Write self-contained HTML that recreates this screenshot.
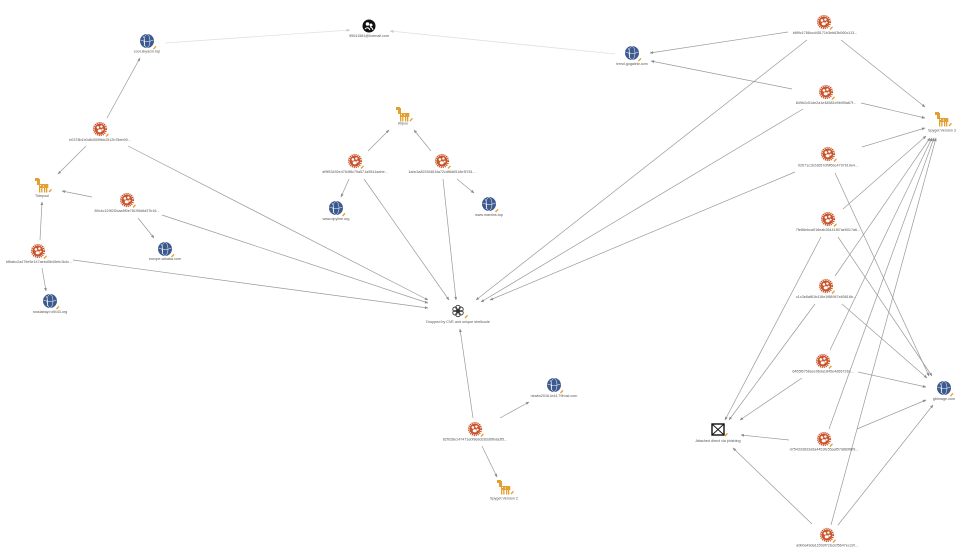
<!DOCTYPE html>
<html>
<head>
<meta charset="utf-8">
<style>
html,body{margin:0;padding:0;background:#fff;}
svg{display:block;}
text{font-family:"Liberation Sans",sans-serif;font-size:3.7px;fill:#555;text-anchor:middle;}
</style>
</head>
<body>
<svg width="974" height="557" viewBox="0 0 974 557" xmlns="http://www.w3.org/2000/svg">
<defs>
<marker id="ar" viewBox="0 0 10 10" refX="9" refY="5" markerWidth="5" markerHeight="5" orient="auto">
<path d="M0,1 L10,5 L0,9 z" fill="#888"/>
</marker>
<marker id="arl" viewBox="0 0 10 10" refX="9" refY="5" markerWidth="5" markerHeight="5" orient="auto">
<path d="M0,1 L10,5 L0,9 z" fill="#ccc"/>
</marker>
<g id="mal">
<circle r="6.3" fill="none" stroke="#c44e26" stroke-width="1.6" stroke-dasharray="1.1 0.9"/>
<circle r="5.4" fill="#c9532a"/>
<circle cx="-2.1" cy="-1.6" r="1.3" fill="#fff"/>
<circle cx="1.4" cy="-2.4" r="1.2" fill="#fff"/>
<circle cx="2.6" cy="0.6" r="1.0" fill="#fff"/>
<ellipse cx="-0.3" cy="1.8" rx="2" ry="1.6" fill="#fff"/>
<line x1="6" y1="7.5" x2="8.5" y2="4.8" stroke="#e89b2f" stroke-width="1.3"/>
</g>
<g id="glb">
<circle r="7" fill="#3c5a8f"/>
<ellipse rx="3" ry="6.5" fill="none" stroke="#fff" stroke-width="0.5"/>
<path d="M-6.5,-1 Q0,2 6.5,-1" fill="none" stroke="#fff" stroke-width="0.5"/>
<path d="M-4,-5 Q-1,0 -3,5" fill="none" stroke="#fff" stroke-width="0.5"/>
<line x1="6.5" y1="8" x2="9" y2="5.3" stroke="#e89b2f" stroke-width="1.3"/>
</g>
<g id="hrs" fill="#e3a032">
<rect x="-7" y="-7" width="4" height="3"/>
<rect x="-5" y="-6" width="3" height="6"/>
<rect x="-3" y="-1" width="8" height="4"/>
<rect x="-3" y="3" width="1.3" height="4.5"/>
<rect x="-0.8" y="3" width="1.3" height="4.5"/>
<rect x="2" y="3" width="1.3" height="4.5"/>
<rect x="4" y="3" width="1.3" height="4.5"/>
<rect x="5" y="-1" width="1.3" height="4"/>
<rect x="-2" y="0" width="1" height="1" fill="#fff"/>
<rect x="1" y="0.5" width="1" height="1" fill="#fff"/>
<line x1="7" y1="7" x2="9.5" y2="4.3" stroke="#e89b2f" stroke-width="1.3"/>
</g>
</defs>

<!-- edges -->
<g stroke="#e0e0e0" stroke-width="0.8" fill="none">
<line x1="165" y1="43" x2="350" y2="30" marker-end="url(#arl)"/>
<line x1="615" y1="54" x2="390" y2="31" marker-end="url(#arl)"/>
</g>
<g stroke="#999" stroke-width="0.7" fill="none" marker-end="url(#ar)">
<line x1="107" y1="118" x2="140" y2="58"/>
<line x1="86" y1="146" x2="58" y2="174"/>
<line x1="128" y1="146" x2="428" y2="300"/>
<line x1="92" y1="197" x2="62" y2="191"/>
<line x1="138" y1="218" x2="154" y2="238"/>
<line x1="162" y1="215" x2="428" y2="303"/>
<line x1="40" y1="240" x2="42" y2="202"/>
<line x1="42" y1="268" x2="46" y2="291"/>
<line x1="73" y1="260" x2="428" y2="308"/>
<line x1="368" y1="151" x2="389" y2="130"/>
<line x1="431" y1="151" x2="414" y2="130"/>
<line x1="349" y1="179" x2="341" y2="197"/>
<line x1="457" y1="179" x2="474" y2="193"/>
<line x1="364" y1="179" x2="449" y2="300"/>
<line x1="443" y1="179" x2="456" y2="300"/>
<line x1="473" y1="418" x2="460" y2="329"/>
<line x1="500" y1="418" x2="529" y2="402"/>
<line x1="482" y1="446" x2="497" y2="477"/>
<line x1="788" y1="32" x2="650" y2="53"/>
<line x1="792" y1="89" x2="651" y2="61"/>
<line x1="807" y1="40" x2="476" y2="300"/>
<line x1="803" y1="109" x2="481" y2="302"/>
<line x1="795" y1="172" x2="490" y2="300"/>
<line x1="841" y1="40" x2="925" y2="107"/>
<line x1="861" y1="103" x2="925" y2="118"/>
<line x1="862" y1="147" x2="925" y2="128"/>
<line x1="843" y1="209" x2="926" y2="136"/>
<line x1="835" y1="276" x2="930" y2="138"/>
<line x1="830" y1="350" x2="932" y2="138"/>
<line x1="829" y1="429" x2="934" y2="138"/>
<line x1="831" y1="525" x2="936" y2="138"/>
<line x1="835" y1="173" x2="929" y2="376"/>
<line x1="838" y1="237" x2="932" y2="376"/>
<line x1="842" y1="304" x2="927" y2="378"/>
<line x1="858" y1="372" x2="926" y2="387"/>
<line x1="857" y1="429" x2="926" y2="400"/>
<line x1="838" y1="525" x2="933" y2="405"/>
<line x1="821" y1="237" x2="725" y2="420"/>
<line x1="815" y1="304" x2="729" y2="420"/>
<line x1="802" y1="378" x2="740" y2="420"/>
<line x1="789" y1="440" x2="741" y2="435"/>
<line x1="812" y1="524" x2="733" y2="448"/>
</g>

<!-- malware nodes -->
<use href="#mal" x="100" y="129"/>
<use href="#mal" x="127" y="200"/>
<use href="#mal" x="38" y="251"/>
<use href="#mal" x="355" y="161"/>
<use href="#mal" x="442" y="161"/>
<use href="#mal" x="475" y="429"/>
<use href="#mal" x="824" y="22"/>
<use href="#mal" x="826" y="92"/>
<use href="#mal" x="828" y="154"/>
<use href="#mal" x="828" y="219"/>
<use href="#mal" x="826" y="286"/>
<use href="#mal" x="823" y="361"/>
<use href="#mal" x="824" y="439"/>
<use href="#mal" x="827" y="535"/>

<!-- globes -->
<use href="#glb" x="147" y="41"/>
<use href="#glb" x="632" y="53"/>
<use href="#glb" x="336" y="208"/>
<use href="#glb" x="489" y="204"/>
<use href="#glb" x="165" y="249"/>
<use href="#glb" x="50" y="301"/>
<use href="#glb" x="554" y="385"/>
<use href="#glb" x="944" y="388"/>

<!-- horses -->
<use href="#hrs" x="403" y="114"/>
<use href="#hrs" x="42" y="185"/>
<use href="#hrs" x="942" y="119"/>
<use href="#hrs" x="504" y="487"/>

<!-- hotmail -->
<g transform="translate(369,26)">
<circle r="6.5" fill="#111"/>
<circle cx="-1.5" cy="-2" r="1.8" fill="#fff"/>
<circle cx="2" cy="-1" r="1.5" fill="#fff"/>
<path d="M-4,3 Q-1,0 1,4 M1,1 Q3,1 4,4" stroke="#fff" stroke-width="1" fill="none"/>
</g>

<!-- dropped -->
<g transform="translate(458,311)" fill="none" stroke="#333" stroke-width="0.9">
<circle cx="0" cy="-3.5" r="2.2"/>
<circle cx="3" cy="-1.8" r="2.2"/>
<circle cx="3" cy="1.8" r="2.2"/>
<circle cx="0" cy="3.5" r="2.2"/>
<circle cx="-3" cy="1.8" r="2.2"/>
<circle cx="-3" cy="-1.8" r="2.2"/>
<circle r="1.6" fill="#333"/>
<line x1="7" y1="7" x2="9.5" y2="4.3" stroke="#e89b2f" stroke-width="1.3"/>
</g>

<!-- envelope -->
<g transform="translate(718,430)">
<rect x="-6" y="-6" width="12" height="11" fill="#fff" stroke="#111" stroke-width="1.4"/>
<path d="M-6,-6 L6,5 M6,-6 L-6,5" stroke="#111" stroke-width="0.9"/>
<line x1="7" y1="6" x2="9.5" y2="3.3" stroke="#e89b2f" stroke-width="1.3"/>
</g>

<!-- labels -->
<text x="147" y="52.5">cool.skyacm.top</text>
<text x="369" y="37">95041581@hotmail.com</text>
<text x="632" y="65">trend.gogalekr.com</text>
<text x="825" y="34">b8f9c1768ccd45171b3eb63b060c113...</text>
<text x="826" y="104">849b2c51de2a1e48581b9b0f0a67f...</text>
<text x="942" y="131.5">Spyget Version 3</text>
<text x="828" y="166.5">02671c1b2d657df9f6bc4797b19e4...</text>
<text x="828" y="231">7fe86ebca916eab26441f87ae5017a6...</text>
<text x="826" y="298">c1c3e8af81b416e1f88947e80616b...</text>
<text x="823" y="372.5">6455f6756ace96da1845e4d66731b...</text>
<text x="944" y="400">gbimage.com</text>
<text x="718" y="442">Attached direct via phishing</text>
<text x="824" y="450.5">d754333833a5a4453fe55aaf57d869f8f9...</text>
<text x="827" y="546.5">a0b0a49da115b9f7cfa3cf5647ecc9f...</text>
<text x="458" y="323">Dropped by CVE and unique shellcode</text>
<text x="554" y="397">newlw2016.kr44.79host.com</text>
<text x="475" y="440.5">82f028e147471ebf8e8d283d6fbda3f5...</text>
<text x="504" y="499.5">Spyget Version 2</text>
<text x="403" y="124.5">Kilpoo</text>
<text x="355" y="173">df9f53492e4764f8c79a571a9541aebe...</text>
<text x="442" y="173">1abc3a8239481f4a72cdf8d6518e3f781...</text>
<text x="336" y="220">www.dpyline.org</text>
<text x="489" y="216">www.marxins.top</text>
<text x="100" y="141">b0378b1b0d6400f9bb2512b78eb09...</text>
<text x="42" y="197">Tidepool</text>
<text x="127" y="212">89c4c129f2f2caa9f0e78195d6d37b16...</text>
<text x="165" y="260">europe.wikaba.com</text>
<text x="39" y="263">bf6abc2a479e5e147aebd5b45efc1b4c...</text>
<text x="50" y="313">russiabay.ru9443.org</text>
</svg>
</body>
</html>
